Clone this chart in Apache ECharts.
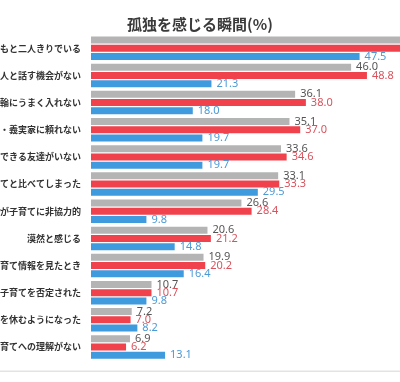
<!DOCTYPE html>
<html>
<head>
<meta charset="utf-8">
<script src="https://cdn.jsdelivr.net/npm/echarts@6/dist/echarts.min.js"></script>
<style>html,body{margin:0;padding:0;background:#fff}#c{width:400px;height:382px}</style>
</head>
<body>
<div id="c"></div>
<script>
const titleText = '孤独を感じる瞬間(%)';
const categories = [
  '子どもと二人きりでいる',
  '大人と話す機会がない',
  'ママ友の輪にうまく入れない',
  '実家・義実家に頼れない',
  '相談できる友達がいない',
  '他人の子育てと比べてしまった',
  '夫が子育てに非協力的',
  '漠然と感じる',
  'SNSで子育て情報を見たとき',
  '他人に子育てを否定された',
  '仕事を休むようになった',
  '職場の子育てへの理解がない'
];
const seriesNames = ['系列A', '系列B', '系列C'];
const grayValues = [58.6, 46.0, 36.1, 35.1, 33.6, 33.1, 26.6, 20.6, 19.9, 10.7, 7.2, 6.9];
const redValues  = [64.3, 48.8, 38.0, 37.0, 34.6, 33.3, 28.4, 21.2, 20.2, 10.7, 7.0, 6.2];
const blueValues = [47.5, 21.3, 18.0, 19.7, 19.7, 29.5, 9.8, 14.8, 16.4, 9.8, 8.2, 13.1];

const chart = echarts.init(document.getElementById('c'), null, {renderer: 'canvas'});
function mk(name, data, color, labelColor) {
  return {
    name: name, type: 'bar', data: data,
    barWidth: 7, barGap: '18%',
    itemStyle: {color: color},
    label: {show: true, position: 'right', distance: 5, color: labelColor,
      fontSize: 11, fontFamily: 'Noto Sans', formatter: p => p.value.toFixed(1)}
  };
}
chart.setOption({
  animation: false,
  title: {text: titleText, left: 'center', top: 12,
    textStyle: {fontSize: 15, fontWeight: 'bold', color: '#3a3a3a', fontFamily: 'Noto Sans CJK JP'}},
  grid: {left: 91, top: 34.7, height: 325.9, width: 311, containLabel: false, outerBoundsMode: 'none'},
  xAxis: {type: 'value', min: 0, max: 55, show: false},
  yAxis: {type: 'category', data: categories, inverse: true,
    axisLine: {show: false}, axisTick: {show: false}, splitLine: {show: false},
    axisLabel: {margin: 10, fontSize: 9, fontWeight: 'bold', color: '#333', fontFamily: 'Noto Sans CJK JP', hideOverlap: false}},
  series: [
    mk(seriesNames[0], grayValues, '#b4b4b4', '#555'),
    mk(seriesNames[1], redValues, '#f0424c', '#d9525c'),
    mk(seriesNames[2], blueValues, '#3f9ade', '#4b9ad6')
  ],
  graphic: [{type: 'rect', shape: {x: 0, y: 370.5, width: 400, height: 1.5}, style: {fill: '#e3e3e3'}, silent: true}]
});
</script>
</body>
</html>
